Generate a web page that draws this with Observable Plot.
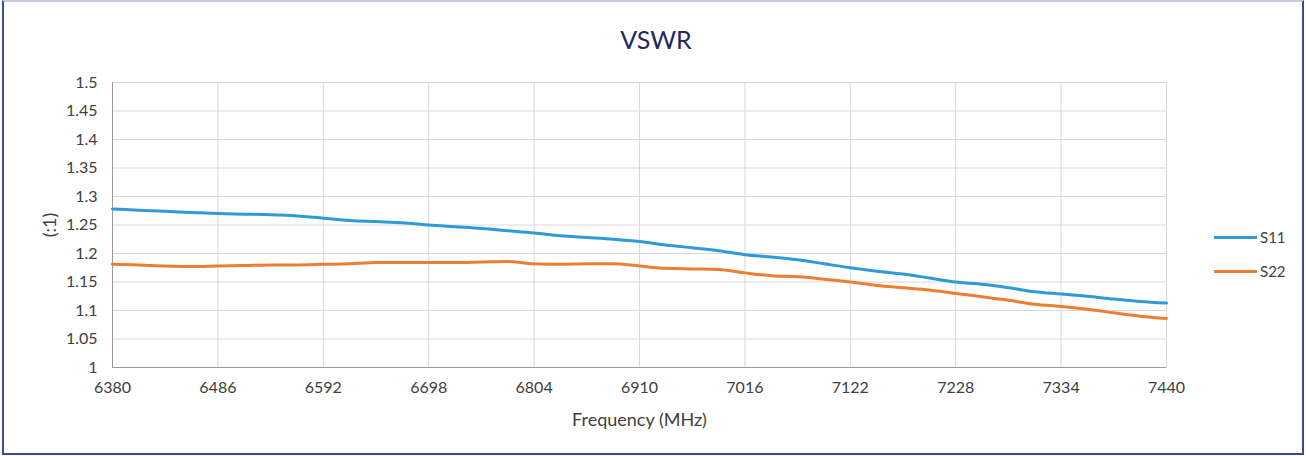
<!DOCTYPE html>
<html>
<head>
<meta charset="utf-8">
<script src="https://cdn.jsdelivr.net/npm/d3@7"></script>
<script src="https://cdn.jsdelivr.net/npm/@observablehq/plot@0.6"></script>
<style>
  html, body { margin: 0; padding: 0; background: #fff; }
  #wrap { position: relative; width: 1306px; height: 456px; overflow: hidden; font-family: Lato, "Open Sans", sans-serif; }
  #frame { position: absolute; left: 2px; top: 0px; width: 1298px; height: 451px; border: 2px solid #3b4a8c; border-top-color: #c8cbe0; pointer-events: none; }
  #title { position: absolute; left: 0; top: 24px; width: 1312px; text-align: center; font-size: 25px; color: #1f2a5e; }
  #chart { position: absolute; left: 0; top: 60px; }
  #chart svg g[aria-label="x-axis label"] text, #chart svg g[aria-label="y-axis label"] text { font-size: 18px; }
  .leg { position: absolute; left: 1214px; font-size: 15px; color: #404040; display: flex; align-items: center; }
  .leg span.ln { display: inline-block; width: 43px; height: 3px; margin-right: 3px; }
</style>
</head>
<body>
<div id="wrap">
  <div id="title">VSWR</div>
  <div id="chart"></div>
  <div class="leg" style="top:228px"><span class="ln" style="background:#2e9bd6"></span>S11</div>
  <div class="leg" style="top:262px"><span class="ln" style="background:#ed7d31"></span>S22</div>
  <div id="frame"></div>
</div>
<script>
const freqs = [6380, 6406.5, 6433, 6459.5, 6486, 6512.5, 6539, 6565.5, 6592, 6618.5, 6645, 6671.5, 6698, 6724.5, 6751, 6777.5, 6804, 6830.5, 6857, 6883.5, 6910, 6936.5, 6963, 6989.5, 7016, 7042.5, 7069, 7095.5, 7122, 7148.5, 7175, 7201.5, 7228, 7254.5, 7281, 7307.5, 7334, 7360.5, 7387, 7413.5, 7440];
const s11 = [1.278, 1.276, 1.274, 1.272, 1.270, 1.269, 1.268, 1.266, 1.262, 1.258, 1.256, 1.254, 1.250, 1.247, 1.244, 1.240, 1.236, 1.231, 1.228, 1.225, 1.221, 1.215, 1.210, 1.205, 1.198, 1.194, 1.189, 1.182, 1.175, 1.169, 1.164, 1.157, 1.150, 1.146, 1.140, 1.133, 1.129, 1.125, 1.120, 1.116, 1.113];
const s22 = [1.181, 1.180, 1.178, 1.177, 1.178, 1.179, 1.180, 1.180, 1.181, 1.182, 1.184, 1.184, 1.184, 1.184, 1.185, 1.186, 1.182, 1.181, 1.182, 1.182, 1.178, 1.174, 1.173, 1.172, 1.166, 1.161, 1.159, 1.155, 1.150, 1.144, 1.140, 1.136, 1.130, 1.124, 1.118, 1.111, 1.107, 1.102, 1.096, 1.090, 1.086];
const xTicks = [6380, 6486, 6592, 6698, 6804, 6910, 7016, 7122, 7228, 7334, 7440];
const yTicks = [1, 1.05, 1.1, 1.15, 1.2, 1.25, 1.3, 1.35, 1.4, 1.45, 1.5];
const seriesNames = ["S11", "S22"];
const seriesColors = ["#2e9bd6", "#ed7d31"];

const data = [];
freqs.forEach((f, i) => {
  data.push({f, v: s11[i], s: seriesNames[0]});
});
freqs.forEach((f, i) => {
  data.push({f, v: s22[i], s: seriesNames[1]});
});

const chart = Plot.plot({
  width: 1306,
  height: 396,
  marginLeft: 112,
  marginRight: 140,
  marginTop: 22,
  marginBottom: 89,
  style: {fontFamily: "Lato, 'Open Sans', sans-serif", fontSize: "16px", color: "#404040", background: "transparent"},
  x: {domain: [6380, 7440]},
  y: {domain: [1, 1.5]},
  color: {domain: seriesNames, range: seriesColors},
  marks: [
    Plot.gridX(xTicks, {stroke: "#d9d9d9", strokeOpacity: 1}),
    Plot.gridY(yTicks, {stroke: "#d9d9d9", strokeOpacity: 1}),
    Plot.axisX({ticks: xTicks, tickSize: 0, tickPadding: 14, tickFormat: d => String(d), label: "Frequency (MHz)", labelAnchor: "center", labelArrow: false, labelOffset: 58, fontSize: 16}),
    Plot.axisY({ticks: yTicks, tickSize: 0, tickPadding: 15, tickFormat: d => String(Math.round(d * 100) / 100), label: "(:1)", labelAnchor: "center", labelArrow: false, labelOffset: 69, fontSize: 16}),
    Plot.ruleX([6380], {stroke: "#9a9a9a"}),
    Plot.ruleY([1], {stroke: "#9a9a9a"}),
    Plot.line(data, {x: "f", y: "v", z: "s", stroke: "s", strokeWidth: 3, curve: "monotone-x"})
  ]
});
document.getElementById("chart").appendChild(chart);
</script>
</body>
</html>
